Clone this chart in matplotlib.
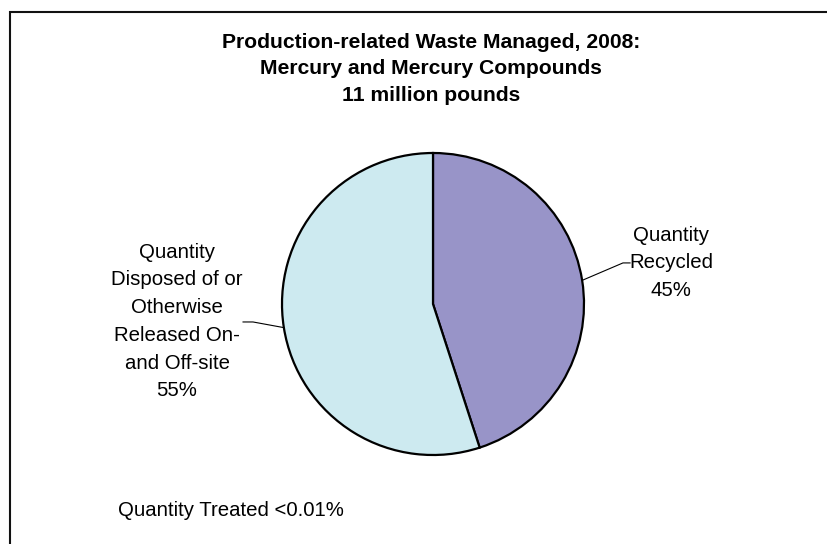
import matplotlib.pyplot as plt
import numpy as np
from matplotlib.patches import Rectangle

plt.rcParams['font.family'] = ['Liberation Sans', 'DejaVu Sans']

# Dados do gráfico
categorias = ['Quantity\nRecycled', 'Quantity\nDisposed of or\nOtherwise\nReleased On-\nand Off-site']
valores = [45, 55]
cores = ['#9894C8', '#CDEAF0']
titulo = 'Production-related Waste Managed, 2008:\nMercury and Mercury Compounds\n11 million pounds'
nota = 'Quantity Treated <0.01%'

W, H = 827, 544
fig = plt.figure(figsize=(W / 100, H / 100), dpi=100)

# pie centrada em (433, 304) px, raio 151 px
cx, cy, r = 433, 304, 151
ax = fig.add_axes([(cx - r) / W, 1 - (cy + r) / H, 2 * r / W, 2 * r / H])
wedges, _ = ax.pie(valores, colors=cores, startangle=90, counterclock=False,
                   wedgeprops=dict(edgecolor='black', linewidth=1.6), radius=1)
ax.set_xlim(-1, 1)
ax.set_ylim(-1, 1)
ax.set_aspect('equal')
ax.axis('off')

# rótulos com linhas de chamada
fs = 14.7
for w, cat, val in zip(wedges, categorias, valores):
    ang = np.deg2rad((w.theta1 + w.theta2) / 2)
    x0, y0 = np.cos(ang), np.sin(ang)
    texto = f'{cat}\n{val}%'
    if x0 > 0:
        xt, yt = 1.576, 0.272
        ax.plot([x0, 1.258, 1.305], [y0, 0.272, 0.272], color='black', lw=0.8, clip_on=False)
    else:
        xt, yt = -1.695, -0.116
        ax.plot([x0, -1.192, -1.258], [y0, -0.119, -0.119], color='black', lw=0.8, clip_on=False)
    ax.text(xt, yt, texto, ha='center', va='center', fontsize=fs, linespacing=1.58)

fig.text(431 / W, 1 - 69 / H, titulo, ha='center', va='center', fontsize=15.2,
         fontweight='bold', linespacing=1.53)
fig.text(118 / W, 1 - 510 / H, nota, ha='left', va='center', fontsize=fs)

# moldura
fig.add_artist(Rectangle((9.5 / W, -0.1), 1.2, 1 - 12.5 / H + 0.1, transform=fig.transFigure,
                         fill=False, edgecolor='#111111', linewidth=1.5))

fig.savefig('out.png', dpi=100)
